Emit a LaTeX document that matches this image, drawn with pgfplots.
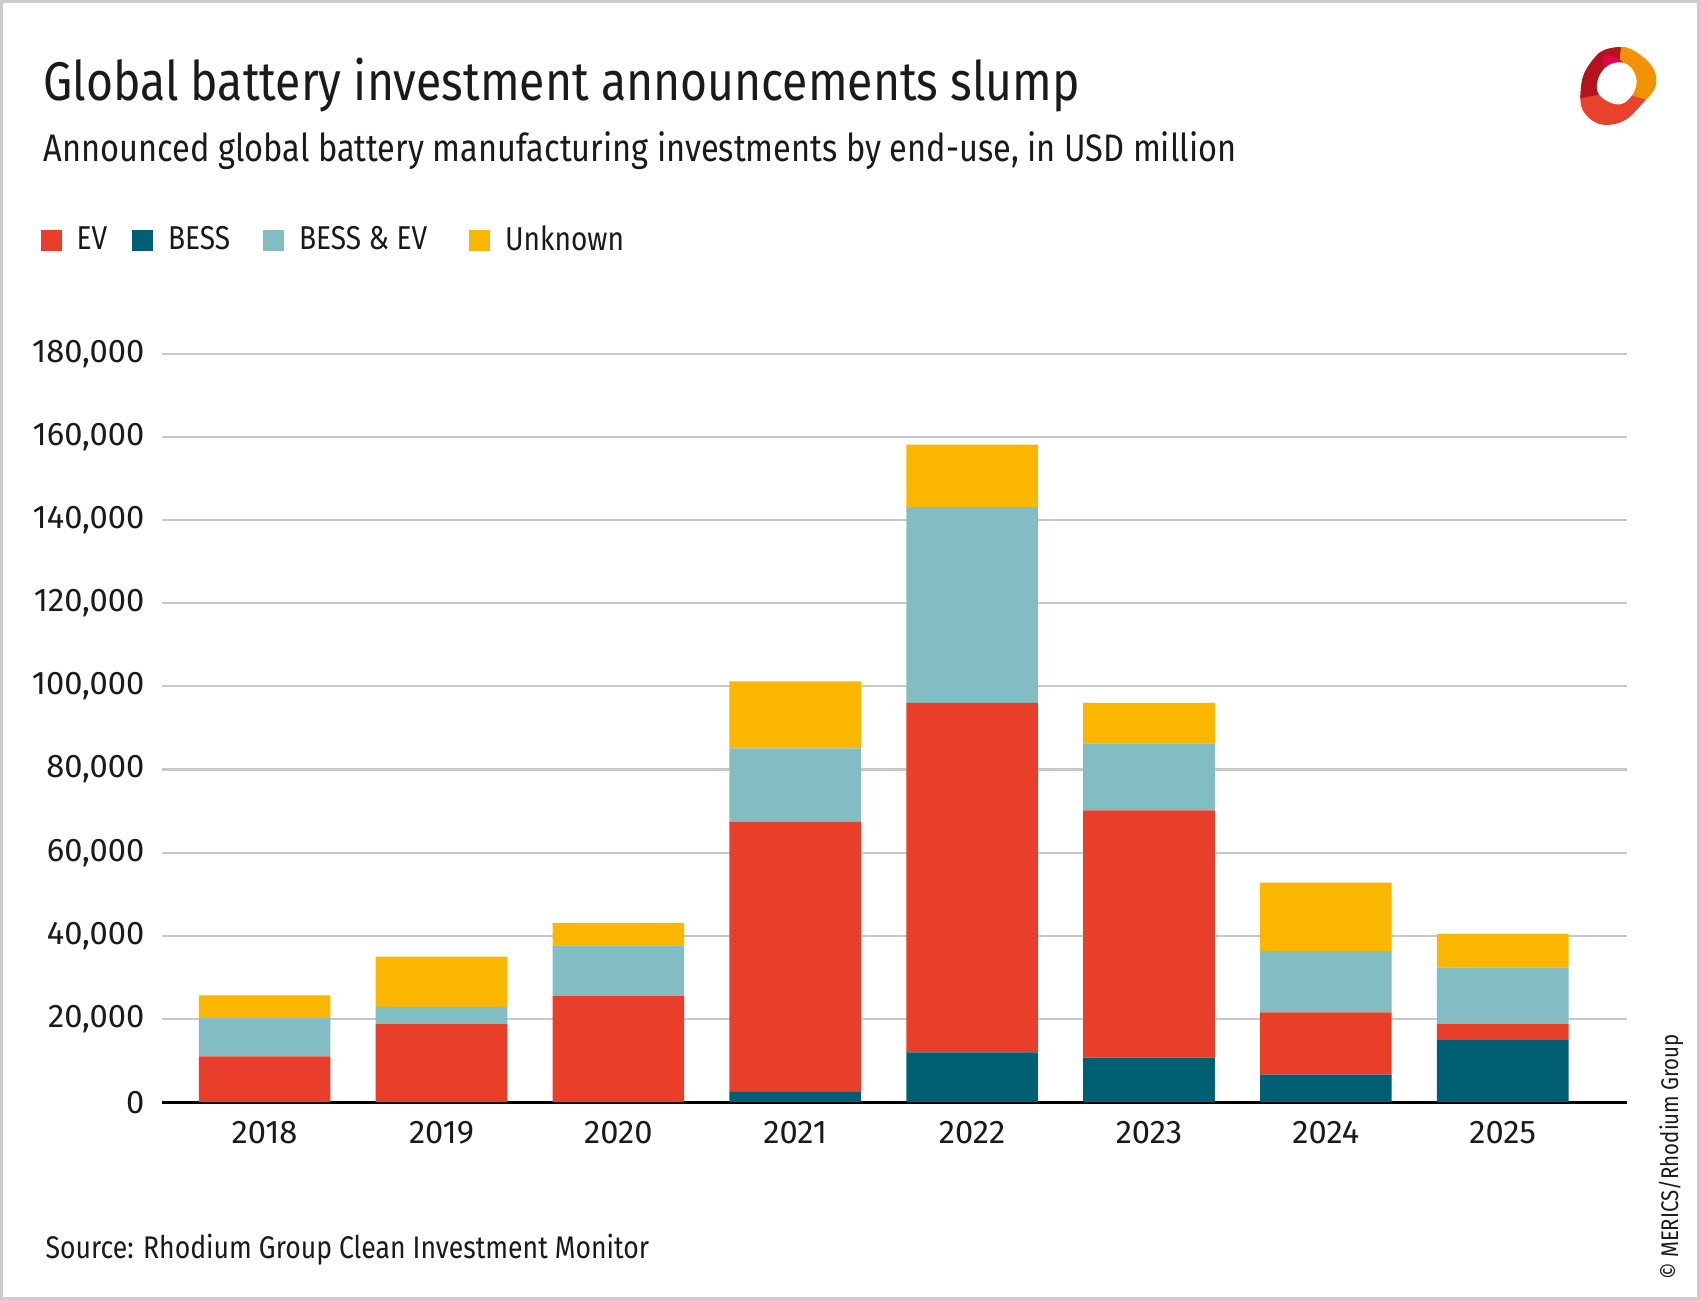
\documentclass[border=0pt]{standalone}
\usepackage{fontspec}
\setmainfont{Fira Sans}[FakeStretch=0.85]
\newfontfamily\tickfont{Fira Sans}
\usepackage{pgfplots}
\pgfplotsset{compat=1.18}
\usepackage{pgfplotstable}
\definecolor{cEV}{HTML}{E93E29}
\definecolor{cBESS}{HTML}{005F73}
\definecolor{cBE}{HTML}{82BDC3}
\definecolor{cUNK}{HTML}{FBB700}
\definecolor{cTxt}{HTML}{1A1A1A}
\definecolor{cGrid}{HTML}{C8C8C8}
\definecolor{cFrame}{HTML}{CCCCCC}
\definecolor{lgDark}{HTML}{B3121F}
\definecolor{lgPink}{HTML}{E2004F}
\definecolor{lgOrange}{HTML}{F39200}
\definecolor{lgRed}{HTML}{E8422C}
\pgfplotstableread{
x BESS EV BE UNK
0 0 11000 9200 5500
1 0 18800 4100 12100
2 0 25500 12200 5400
3 2500 64900 17700 16100
4 12000 84000 47100 15000
5 10700 59500 16100 9700
6 6600 15000 14700 16500
7 14900 4000 13500 8100
}\datatable
\begin{document}
\begin{tikzpicture}
\useasboundingbox (0,0) rectangle (17,13);
\fill[white] (0,0) rectangle (17,13);
\draw[cFrame, line width=0.03cm] (0.015,0.015) rectangle (16.985,12.985);
% titles
\node[anchor=base west, inner sep=0, text=cTxt] at (0.43,11.99) {\fontsize{15.5}{18}\selectfont Global battery investment announcements slump};
\node[anchor=base west, inner sep=0, text=cTxt] at (0.43,11.383) {\fontsize{10.9}{12}\selectfont Announced global battery manufacturing investments by end-use, in USD million};
\node[anchor=base west, inner sep=0, text=cTxt] at (0.45,0.41) {\fontsize{8.9}{10}\selectfont Source: Rhodium Group Clean Investment Monitor};
\node[rotate=90, anchor=center, inner sep=0, text=cTxt] at (16.71,1.43) {\fontsize{6.85}{8}\selectfont \textcopyright\ MERICS/Rhodium Group};
% logo (decoration)
\begin{scope}[shift={(16.17,12.14)}]
  \begin{scope}
    \clip plot[smooth cycle, tension=0.8] coordinates {(-0.05,0.38) (0.2,0.33) (0.39,0.08) (0.25,-0.18) (-0.02,-0.38) (-0.3,-0.3) (-0.36,-0.02) (-0.25,0.25)};
    \fill[lgRed] (-0.5,-0.5) rectangle (0.5,0.5);
    \fill[lgDark] (-0.5,-0.15) -- (0.0,-0.05) -- (0.05,0.5) -- (-0.5,0.5) -- cycle;
    \fill[lgOrange] (0.05,0.5) -- (0.0,-0.05) -- (0.5,-0.2) -- (0.5,0.5) -- cycle;
    \fill[lgPink] (-0.15,0.3) .. controls (0.0,0.33) and (0.08,0.25) .. (0.1,0.12) -- (-0.1,0.05) -- cycle;
  \end{scope}
  \fill[white] plot[smooth cycle, tension=0.9] coordinates {(-0.03,0.23) (0.18,0.12) (0.12,-0.13) (-0.08,-0.16) (-0.2,0.02)};
\end{scope}
\begin{axis}[
  at={(1.62cm,1.978cm)}, anchor=south west,
  width=14.645cm, height=7.485cm, scale only axis,
  xmin=-0.58, xmax=7.70, ymin=0, ymax=180000,
  ybar stacked, bar width=0.744,
  axis lines*=left,
  y axis line style={draw=none},
  x axis line style={draw=black, line width=0.9pt, -},
  major tick length=0pt,
  xtick={0,...,7},
  xticklabels={2018,2019,2020,2021,2022,2023,2024,2025},
  ytick={0,20000,...,180000},
  ymajorgrids, grid style={cGrid, line width=0.6pt},
  scaled y ticks=false,
  /pgf/number format/.cd, fixed, precision=0, 1000 sep={,}, assume math mode=true,
  /pgfplots/.cd,
  every tick label/.append style={font=\tickfont\fontsize{9.3}{10}\selectfont, text=cTxt},
  yticklabel style={inner sep=0pt, anchor=east, xshift=-0.17cm},
  xticklabel style={inner sep=0pt, anchor=north, yshift=-0.18cm},
  legend columns=-1,
  legend style={at={(axis description cs:-0.0833,1.1506)}, anchor=west, draw=none, fill=none,
    inner sep=0pt, font=\fontsize{9.4}{10}\selectfont, text=cTxt,
    nodes={inner sep=0pt, anchor=west},
    /tikz/every odd column/.append style={column sep=0.15cm},
    /tikz/column 2/.append style={column sep=0.25cm},
    /tikz/column 4/.append style={column sep=0.33cm},
    /tikz/column 6/.append style={column sep=0.42cm}},
]
\addlegendimage{legend image code/.code={\fill[cEV] (0cm,-0.095cm) rectangle (0.195cm,0.1cm);}}
\addlegendentry{EV}
\addlegendimage{legend image code/.code={\fill[cBESS] (0cm,-0.095cm) rectangle (0.195cm,0.1cm);}}
\addlegendentry{BESS}
\addlegendimage{legend image code/.code={\fill[cBE] (0cm,-0.095cm) rectangle (0.195cm,0.1cm);}}
\addlegendentry{BESS \& EV}
\addlegendimage{legend image code/.code={\fill[cUNK] (0cm,-0.095cm) rectangle (0.195cm,0.1cm);}}
\addlegendentry{Unknown}
\addplot[fill=cBESS, draw=none, forget plot] table[x=x, y=BESS] {\datatable};
\addplot[fill=cEV, draw=none, forget plot] table[x=x, y=EV] {\datatable};
\addplot[fill=cBE, draw=none, forget plot] table[x=x, y=BE] {\datatable};
\addplot[fill=cUNK, draw=none, forget plot] table[x=x, y=UNK] {\datatable};
\end{axis}
\end{tikzpicture}
\end{document}
